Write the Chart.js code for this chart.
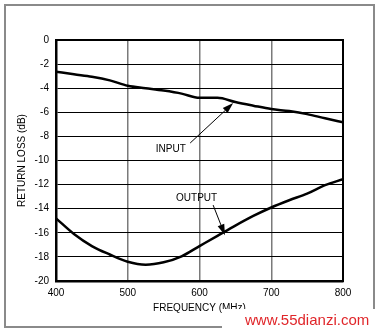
<!DOCTYPE html>
<html>
<head>
<meta charset="utf-8">
<script src="https://cdn.jsdelivr.net/npm/chart.js@4/dist/chart.umd.min.js"></script>
<style>
  html, body { margin: 0; padding: 0; background: #fff; }
  #wrap { width: 380px; height: 333px; position: relative; }
</style>
</head>
<body>
<div id="wrap"><canvas id="rl" width="380" height="333"></canvas></div>
<script>
// frequency points (MHz) and return loss (dB)
var freqs = [400, 425, 450, 475, 500, 525, 550, 575, 600, 625, 650, 675, 700, 725, 750, 775, 800];
var inputLoss = [-2.63, -2.85, -3.05, -3.35, -3.8, -4.0, -4.2, -4.45, -4.8, -4.8, -5.15, -5.45, -5.73, -5.9, -6.15, -6.5, -6.83];
var outputLoss = [-14.8, -16.1, -17.1, -17.8, -18.4, -18.65, -18.45, -17.95, -17.1, -16.25, -15.4, -14.6, -13.9, -13.3, -12.75, -12.05, -11.55];
var xTicks = [400, 500, 600, 700, 800];
var yTicks = [0, -2, -4, -6, -8, -10, -12, -14, -16, -18, -20];

var FONT = "'Liberation Sans', Arial, sans-serif";

function pts(ys) {
	return freqs.map(function (f, i) { return {x: f, y: ys[i]}; });
}

// labels with arrows: text position, arrow tail, arrow tip (data units)
var labels = [
	{text: 'INPUT', at: [560, -9.1], from: [587, -8.55], to: [647, -5.23]},
	{text: 'OUTPUT', at: [596, -13.1], from: [619, -13.7], to: [635.5, -16.2]}
];

var framePlugin = {
	id: 'frame',
	beforeDraw: function (chart) {
		var ctx = chart.ctx;
		ctx.save();
		ctx.fillStyle = '#fff';
		ctx.fillRect(0, 0, chart.width, chart.height);
		ctx.strokeStyle = '#8a8a8a';
		ctx.lineWidth = 2;
		ctx.strokeRect(5, 5, 369, 322);
		ctx.restore();
	},
	afterDraw: function (chart) {
		var ctx = chart.ctx, a = chart.chartArea;
		var xs = chart.scales.x, ys = chart.scales.y;
		ctx.save();
		ctx.strokeStyle = '#000';
		ctx.lineWidth = 2;
		ctx.strokeRect(a.left, a.top, a.right - a.left, a.bottom - a.top);

		ctx.font = '10px ' + FONT;
		ctx.fillStyle = '#000';
		ctx.textAlign = 'center';
		ctx.textBaseline = 'middle';
		labels.forEach(function (l) {
			ctx.fillText(l.text, xs.getPixelForValue(l.at[0]), ys.getPixelForValue(l.at[1]));
			var x0 = xs.getPixelForValue(l.from[0]), y0 = ys.getPixelForValue(l.from[1]);
			var x1 = xs.getPixelForValue(l.to[0]), y1 = ys.getPixelForValue(l.to[1]);
			var ang = Math.atan2(y1 - y0, x1 - x0);
			var hl = 11, hw = 3.5;
			var bx = x1 - hl * Math.cos(ang), by = y1 - hl * Math.sin(ang);
			ctx.lineWidth = 1;
			ctx.beginPath();
			ctx.moveTo(x0, y0);
			ctx.lineTo(bx, by);
			ctx.stroke();
			ctx.beginPath();
			ctx.moveTo(x1, y1);
			ctx.lineTo(bx + hw * Math.sin(ang), by - hw * Math.cos(ang));
			ctx.lineTo(bx - hw * Math.sin(ang), by + hw * Math.cos(ang));
			ctx.closePath();
			ctx.fill();
		});

		// site watermark in the lower right corner
		ctx.fillStyle = '#fff';
		ctx.fillRect(222, 309, 158, 24);
		ctx.font = '15px ' + FONT;
		ctx.fillStyle = '#e0262a';
		ctx.textAlign = 'left';
		ctx.fillText('www.55dianzi.com', 245, 321);
		ctx.restore();
	}
};

new Chart(document.getElementById('rl').getContext('2d'), {
	type: 'line',
	data: {
		datasets: [
			{label: 'INPUT', data: pts(inputLoss)},
			{label: 'OUTPUT', data: pts(outputLoss)}
		]
	},
	options: {
		responsive: false,
		animation: false,
		events: [],
		layout: {padding: {left: 0, top: 40, right: 37, bottom: 0}},
		elements: {
			line: {borderColor: '#000', borderWidth: 2.5, tension: 0.4, cubicInterpolationMode: 'monotone'},
			point: {radius: 0}
		},
		plugins: {legend: {display: false}, tooltip: {enabled: false}},
		scales: {
			x: {
				type: 'linear', min: 400, max: 800,
				afterFit: function (s) { s.height = 52; },
				afterBuildTicks: function (s) { s.ticks = xTicks.map(function (v) { return {value: v}; }); },
				grid: {color: '#7a7a7a', lineWidth: 1.5, drawTicks: false},
				border: {color: '#000', width: 2.5},
				ticks: {color: '#000', padding: 6, font: {family: FONT, size: 10}},
				title: {display: true, text: 'FREQUENCY (MHz)', color: '#000', padding: {top: 0, bottom: 19}, font: {family: FONT, size: 10}}
			},
			y: {
				type: 'linear', min: -20, max: 0,
				afterFit: function (s) { s.width = 56; },
				afterBuildTicks: function (s) { s.ticks = yTicks.map(function (v) { return {value: v}; }); },
				grid: {color: '#000', lineWidth: 1, drawTicks: false},
				border: {color: '#000', width: 2.5},
				ticks: {color: '#000', padding: 7, font: {family: FONT, size: 10}},
				title: {display: true, text: 'RETURN LOSS (dB)', color: '#000', padding: {top: 16, bottom: 0}, font: {family: FONT, size: 10}}
			}
		}
	},
	plugins: [framePlugin]
});
</script>
</body>
</html>
